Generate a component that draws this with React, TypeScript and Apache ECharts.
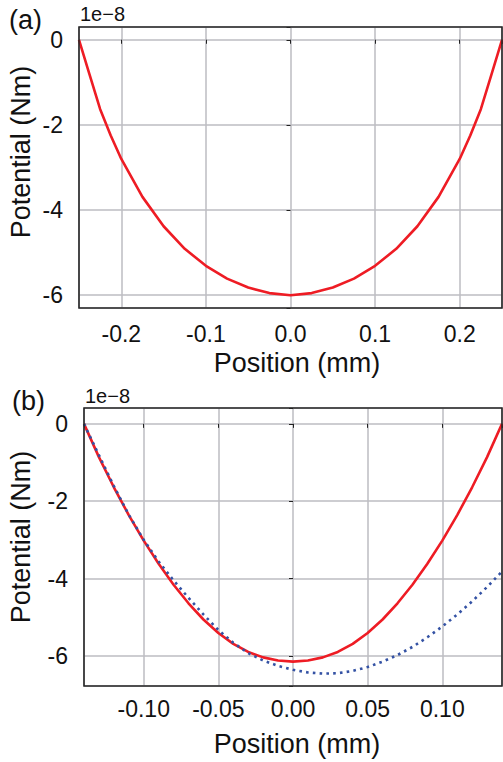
import React, { useEffect, useRef } from "react";
import * as echarts from "echarts";

// ---- Panel (a) ----
const posA = [-0.25, -0.2375, -0.225, -0.2125, -0.2, -0.175, -0.15, -0.125, -0.1, -0.075, -0.05, -0.025, 0, 0.025, 0.05, 0.075, 0.1, 0.125, 0.15, 0.175, 0.2, 0.2125, 0.225, 0.2375, 0.25];
const potA = [0, -0.82, -1.63, -2.25, -2.8, -3.69, -4.38, -4.91, -5.31, -5.61, -5.82, -5.95, -6.0, -5.95, -5.82, -5.61, -5.31, -4.91, -4.38, -3.69, -2.8, -2.25, -1.63, -0.82, 0];

// ---- Panel (b) ----
const posB = [-0.14, -0.13, -0.12, -0.11, -0.1, -0.09, -0.08, -0.07, -0.06, -0.05, -0.04, -0.03, -0.02, -0.01, 0, 0.01, 0.02, 0.03, 0.04, 0.05, 0.06, 0.07, 0.08, 0.09, 0.1, 0.11, 0.12, 0.13, 0.14];
const potBRed = [0, -0.86, -1.64, -2.36, -3.02, -3.62, -4.16, -4.64, -5.06, -5.41, -5.69, -5.9, -6.04, -6.12, -6.15, -6.12, -6.04, -5.9, -5.69, -5.41, -5.06, -4.64, -4.16, -3.62, -3.02, -2.36, -1.64, -0.86, 0];
const potBBlue = [0, -0.81, -1.61, -2.35, -3.0, -3.56, -4.05, -4.5, -4.93, -5.33, -5.66, -5.93, -6.12, -6.26, -6.36, -6.43, -6.46, -6.45, -6.39, -6.29, -6.15, -5.98, -5.77, -5.52, -5.24, -4.93, -4.59, -4.22, -3.82];

const xLabel = "Position (mm)";
const yLabel = "Potential (Nm)";
const offsetText = "1e\u22128";

const FONT = "'Liberation Sans', Arial, Helvetica, sans-serif";
const TXT = "#111111";
const GRIDC = "#bdbdc2";

function stepFormatter(step: number, digits: number) {
  return (v: number) => {
    const r = v / step;
    if (Math.abs(r - Math.round(r)) > 1e-6) return "";
    const val = Math.abs(v) < 1e-9 ? 0 : v;
    return val.toFixed(digits);
  };
}

function xAxis(gridIndex: number, min: number, max: number, splitNumber: number, step: number, digits: number, margin: number) {
  return {
    type: "value",
    gridIndex,
    min,
    max,
    splitNumber,
    axisLine: { show: false },
    axisTick: { show: true, length: 4, lineStyle: { color: "#222", width: 1 } },
    axisLabel: { margin, fontSize: 23, color: TXT, fontFamily: FONT, formatter: stepFormatter(step, digits) },
    splitLine: { show: true, lineStyle: { color: GRIDC, width: 1.5 } },
  };
}

function yAxis(gridIndex: number, min: number, max: number, splitNumber: number) {
  return {
    type: "value",
    gridIndex,
    min,
    max,
    splitNumber,
    axisLine: { show: false },
    axisTick: { show: true, length: 4, lineStyle: { color: "#222", width: 1 } },
    axisLabel: { margin: 16, fontSize: 23, color: TXT, fontFamily: FONT, formatter: stepFormatter(2, 0) },
    splitLine: { show: true, lineStyle: { color: GRIDC, width: 1.5 } },
  };
}

function txt(x: number, y: number, text: string, size: number, align: string, rotation = 0) {
  return {
    type: "text",
    x,
    y,
    rotation,
    silent: true,
    style: {
      text,
      font: `${size}px ${FONT}`,
      fill: TXT,
      textAlign: align,
      textVerticalAlign: "middle",
      align,
      verticalAlign: "middle",
    },
  };
}

export default function App() {
  const ref = useRef<HTMLDivElement>(null);
  useEffect(() => {
    document.body.style.margin = "0";
    const chart = echarts.init(ref.current!, null, { renderer: "svg" });
    const option: any = {
      animation: false,
      backgroundColor: "#ffffff",
      grid: [
        { left: 79, top: 27, width: 423, height: 281, show: true, borderColor: "#262626", borderWidth: 1.6, backgroundColor: "transparent", z: 3, outerBoundsMode: "none", containLabel: false },
        { left: 84, top: 408, width: 418, height: 278, show: true, borderColor: "#262626", borderWidth: 1.6, backgroundColor: "transparent", z: 3, outerBoundsMode: "none", containLabel: false },
      ],
      xAxis: [
        xAxis(0, -0.25, 0.25, 5, 0.1, 1, 14),
        xAxis(1, -0.14, 0.14, 6, 0.05, 2, 11),
      ],
      yAxis: [yAxis(0, -6.3, 0.3, 4), yAxis(1, -6.78, 0.41, 4)],
      series: [
        {
          type: "line",
          xAxisIndex: 0,
          yAxisIndex: 0,
          data: posA.map((x, i) => [x, potA[i]]),
          showSymbol: false,
          symbol: "none",
          lineStyle: { color: "#ee1c24", width: 2.6 },
          z: 2,
        },
        {
          type: "line",
          xAxisIndex: 1,
          yAxisIndex: 1,
          data: posB.map((x, i) => [x, potBRed[i]]),
          showSymbol: false,
          symbol: "none",
          lineStyle: { color: "#ee1c24", width: 2.6 },
          z: 2,
        },
        {
          type: "line",
          xAxisIndex: 1,
          yAxisIndex: 1,
          data: posB.map((x, i) => [x, potBBlue[i]]),
          showSymbol: false,
          symbol: "none",
          lineStyle: { color: "#3452a4", width: 2.6, type: [2.6, 4.2] },
          z: 2,
        },
      ],
      graphic: [
        txt(9, 20, "(a)", 27, "left"),
        txt(80, 14, offsetText, 20, "left"),
        txt(297, 363, xLabel, 27, "center"),
        txt(21, 152, yLabel, 27, "center", Math.PI / 2),
        txt(12, 401, "(b)", 27, "left"),
        txt(85, 396, offsetText, 20, "left"),
        txt(297, 744, xLabel, 27, "center"),
        txt(21, 537, yLabel, 27, "center", Math.PI / 2),
      ],
    };
    chart.setOption(option);
    return () => chart.dispose();
  }, []);
  return <div ref={ref} style={{ width: 503, height: 762 }} />;
}
